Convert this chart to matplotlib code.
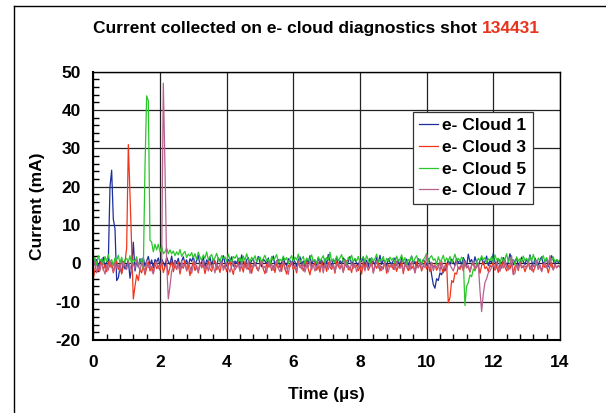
import numpy as np
import matplotlib
matplotlib.use("Agg")
import matplotlib.pyplot as plt
from matplotlib.ticker import MultipleLocator
from matplotlib.lines import Line2D

plt.rcParams['font.family'] = ['Liberation Sans', 'DejaVu Sans']
plt.rcParams['font.weight'] = 'bold'
plt.rcParams['axes.unicode_minus'] = False

# Sampling of the scope traces (µs)
t_start = 0.0
t_step = 0.05
n_samples = 281

# Collected current (mA) for each e- cloud detector
cloud1 = [
    1.5, -0.5, 1.0, -1.2, 0.8, -0.3, 1.6, -1.0, 0.4, 0.5, 20.0, 24.3, 11.5, 9.0, -4.5, -3.8, -1.0, -2.5, 0.5, -1.5,
    -0.5, 0.8, -3.9, -1.2, 5.5, -2.0, 0.6, -1.0, 1.2, -0.4, 1.5, -0.8, 0.6, 1.8, -0.5, 0.9, -1.2, 1.0, 0.3, 1.4,
    -0.6, 1.1, 0.2, -0.9, 1.6, 0.4, -0.3, 1.9, -0.7, 0.8, 0.1, 1.3, -1.1, 0.6, 1.7, -0.2, 0.9, -0.8, 1.2, 0.5,
    1.8, -0.4, 0.7, 2.1, -0.6, 0.3, 1.5, -1.0, 0.9, 0.2, 1.6, -0.5, 1.1, 0.4, -0.9, 1.4, 0.6, -0.2, 2.0, 0.1,
    -0.7, 1.0, 0.5, 1.7, -0.8, 0.6, 0.0, 1.3, -0.4, 2.2, 0.3, -1.0, 0.9, 1.5, -0.3, 0.7, 1.2, -0.6, 0.4, 1.8,
    0.2, -0.9, 1.1, 0.6, -0.2, 1.4, -0.7, 0.8, 1.9, -0.5, 0.5, 1.0, -1.1, 0.3, 1.6, 0.0, -0.6, 1.2, 0.7, -0.3,
    1.3, 0.4, -0.8, 0.9, 1.7, -0.4, 0.6, -1.0, 1.1, 0.2, 2.0, -0.3, 0.8, 0.5, -0.7, 1.5, 0.1, 0.9, -0.5, 1.2,
    -0.2, 2.3, 0.5, -0.8, 1.0, 0.3, 1.6, -0.6, 0.7, -0.1, 1.4, 0.9, -0.9, 0.4, 1.8, -0.4, 0.6, 1.1, 0.0, -0.7,
    1.0, 0.4, 1.7, -0.6, 0.8, -1.0, 1.3, 0.2, 0.6, -0.5, 1.5, 0.0, 2.1, -0.3, 0.9, 0.5, -0.8, 1.2, 0.3, -0.2,
    0.7, 1.4, -0.5, 0.9, -0.9, 1.6, 0.4, 0.0, 1.1, -0.6, 0.8, 1.9, -0.2, 0.5, -1.0, 1.2, 0.6, -0.4, 1.0, 0.3,
    -0.5, 1.2, 0.2, -3.0, -5.5, -6.5, -4.0, -4.5, -2.5, -3.0, -1.5, -2.0, -0.5, 0.8, -0.3, 1.1, 0.4, -0.6, 1.3, 0.0,
    0.9, -0.4, 1.5, 0.6, -0.8, 2.4, 0.3, 1.0, -0.5, 1.7, 0.2, -0.9, 0.8, 1.4, -0.3, 0.5, 1.9, -0.6, 0.7, 0.1,
    2.6, 0.4, -0.7, 1.2, 0.6, -0.2, 1.5, 0.9, -1.0, 0.3, 2.5, 1.0, -0.4, 0.7, 1.3, -0.6, 0.2, 1.6, 0.5, -0.3,
    1.1, 0.0, 2.2, 0.6, -0.8, 1.4, 0.3, -0.5, 0.9, 1.7, -0.2, 0.6, 1.2, -0.9, 0.4, 2.0, 0.8, -0.4, 1.0, 0.2,
    0.6,
]

cloud3 = [
    -4.0, -1.5, 0.5, -2.0, -0.5, 0.8, -1.8, -0.3, -2.2, 0.4, -1.0, 0.2, -2.5, -0.8, 0.6, -1.6, -0.2, -2.8, -0.7, 0.3,
    4.0, 31.0, 18.0, 4.0, -9.3, -6.0, -3.0, -4.5, -1.5, -2.5, -0.5, -3.0, -1.2, 0.4, -2.0, -0.8, -2.6, 0.2, -1.4, -0.6,
    -1.8, 0.5, -2.4, -0.9, -0.2, -3.0, -1.0, 0.6, -2.2, -0.4, -1.6, 0.3, -2.8, -0.7, -1.3, 0.8, -2.0, -0.5, -3.2, -1.1,
    0.4, -1.9, -0.6, -2.5, 0.2, -1.2, -0.3, -2.7, -0.9, 0.5, -1.5, -2.1, -0.2, 0.7, -1.7, -0.8, -2.4, 0.1, -1.0, -0.4,
    -2.2, -0.6, 0.6, -1.4, -2.9, -0.3, -1.1, 0.3, -1.8, -0.7, -2.3, 0.5, -0.9, -1.6, -0.1, -2.6, -0.5, 0.2, -1.3, -2.0,
    -0.4, 0.7, -1.5, -2.7, -0.2, -1.0, 0.4, -1.9, -0.6, -2.4, 0.1, -1.2, -0.3, -2.1, 0.6, -1.4, -2.8, -0.5, -0.9, 0.3,
    -1.7, -0.8, -2.5, 0.5, -1.1, -0.2, -2.0, -0.6, 0.4, -1.5, -3.0, -0.4, -0.9, 0.2, -1.8, -0.7, -2.3, 0.6, -1.2, -0.3,
    -2.1, 0.3, -1.0, -1.6, -0.4, -2.6, 0.5, -0.8, -1.4, -0.1, -2.2, -0.6, 0.7, -1.7, -0.9, -2.4, 0.0, -1.1, -0.5, -1.9,
    -0.7, -2.8, 0.4, -1.2, -0.3, -1.8, -0.9, 0.6, -2.3, -0.5, -1.3, 0.2, -2.0, -0.8, -1.5, 0.5, -2.6, -0.4, -1.0, -0.2,
    -1.6, 0.3, -2.1, -0.7, -1.2, 0.6, -2.7, -0.4, -0.9, -1.9, 0.1, -1.4, -0.6, -2.4, 0.4, -1.1, -0.3, -2.0, -0.8, 0.5,
    -1.5, -0.6, -2.2, 0.2, -1.0, -0.4, -1.8, -0.9, 0.3, -1.3, -2.5, -0.7, 0.0, -10.3, -9.0, -4.5, -5.0, -2.5, -2.8, -1.0,
    -1.6, -0.3, -2.0, 0.4, -1.2, -0.8, -2.3, -0.5, 0.2, -1.7, -1.0, -0.2, -2.6, -0.6, 0.5, -1.4, -0.9, -2.1, -0.4, -1.1,
    0.3, -1.8, -0.7, -2.4, -0.2, -1.3, 0.6, -1.0, -2.0, -0.5, -1.5, 0.1, -2.7, -0.8, -0.3, -1.9, 0.4, -1.2, -0.6, -2.2,
    -0.9, 0.2, -1.6, -0.4, -2.3, -1.0, 0.5, -1.4, -0.7, -2.0, 0.0, -1.1, -0.5, -2.5, -0.8, 0.3, -1.7, -0.3, -1.2, -0.6,
    -1.0,
]

cloud5 = [
    0.0, 1.5, -0.5, 2.0, 0.6, 1.2, -0.3, 1.8, 0.4, 2.3, 0.2, 1.0, -0.6, 1.4, 0.8, 2.1, 0.1, 1.6, -0.4, 0.9,
    1.3, 0.3, 2.0, -0.2, 1.1, 0.5, 1.7, -0.8, 0.6, 1.2, -1.5, 25.0, 43.7, 42.4, 6.0, 5.5, 3.0, 5.0, 3.5, 5.0,
    3.0, 4.5, 2.5, 3.0, 4.0, 2.5, 3.5, 2.5, 3.2, 2.0, 3.0, 2.2, 3.6, 1.8, 2.6, 3.1, 1.5, 2.4, 1.9, 2.8,
    1.4, 2.5, 1.0, 2.9, 1.6, 0.8, 2.2, 1.3, 3.0, 0.9, 1.8, 2.3, 0.6, 1.5, 2.6, 1.1, 0.4, 2.0, 1.2, 1.7,
    0.5, 2.4, 1.0, 0.2, 1.8, 1.3, 2.2, 0.6, 1.5, -0.2, 1.9, 0.8, 2.5, 1.1, 0.3, 1.6, 0.9, 2.0, 0.4, 1.2,
    1.7, 0.1, 1.3, 2.1, 0.6, 1.0, -0.3, 1.8, 0.7, 1.4, 2.3, 0.2, 1.1, 0.5, 1.9, 0.8, 1.5, -0.1, 1.2, 2.0,
    0.4, 1.6, 0.9, 2.4, 0.3, 1.1, 1.8, -0.2, 1.4, 0.7, 1.2, 2.2, 0.5, 1.0, 0.0, 1.7, 0.6, 1.3, 2.0, 0.2,
    1.5, 0.8, 2.9, 0.5, 1.2, 0.1, 1.9, 0.7, 1.4, 2.3, 0.3, 1.0, -0.3, 1.6, 0.9, 2.1, 0.4, 1.3, 0.6, 1.8,
    0.2, 1.1, 1.7, 0.4, 2.0, 0.9, -0.1, 1.5, 0.6, 1.2, 2.4, 0.3, 1.0, 0.7, 1.8, -0.2, 1.3, 0.5, 1.6, 0.8,
    1.4, 0.0, 1.9, 0.6, 1.1, 2.2, 0.3, 1.5, -0.4, 1.0, 0.7, 1.8, 0.2, 1.3, 2.0, 0.5, 1.2, -0.2, 0.9, 1.6,
    2.6, 0.4, 1.5, 2.0, 0.8, 1.2, -0.3, 1.7, 0.5, 1.0, 2.1, 0.3, 1.4, 0.6, 1.8, 0.0, 1.1, 2.4, 0.7, 1.3,
    0.5, 1.6, 1.0, -11.0, -6.0, -5.0, -3.0, -3.5, -1.5, -2.0, 0.2, 1.3, 0.6, 2.0, 0.9, 1.5, 0.1, 1.2, 0.7, 1.8,
    0.4, 2.2, 0.9, 1.3, -0.2, 1.6, 0.5, 1.1, 2.5, 0.3, 1.4, 0.8, 1.0, -0.4, 1.7, 0.6, 1.2, 0.2, 1.9, 0.7,
    1.3, 0.1, 1.8, 0.6, 2.3, 0.9, -0.5, 1.4, 0.7, 1.1, 2.0, 0.4, 1.5, 0.0, 1.2, 0.8, 1.7, 0.3, 1.0, 0.5,
    0.9,
]

cloud7 = [
    -1.0, 0.5, -2.5, -0.8, -2.0, 0.3, -1.5, -2.8, -0.5, -1.8, 0.6, -0.9, -2.2, 0.2, -1.2, -0.4, -2.0, 0.8, -1.0, -0.3,
    -1.6, 0.4, -0.7, -2.1, 0.1, -1.3, 0.9, -0.5, -1.9, 0.3, -0.8, -2.4, 0.5, -1.1, -0.2, -1.7, -2.8, -0.6, 0.4, -1.4,
    -0.5, 0.0, 47.0, 25.0, 0.0, -9.3, -6.0, -2.0, -0.8, 0.6, -1.5, -0.3, -2.0, 0.5, -1.0, -0.4, -1.8, 0.2, -0.9, -2.6,
    -0.6, 0.4, -1.3, -2.2, -0.1, -0.9, 0.7, -1.6, -0.4, -2.0, 0.3, -1.1, -0.7, -2.5, 0.0, -1.4, -0.3, 0.6, -1.8, -0.8,
    0.2, -1.2, -2.3, -0.5, 0.5, -1.7, -0.9, -0.2, -2.1, 0.4, -1.0, -0.6, -1.5, 0.7, -2.6, -0.4, -1.1, 0.1, -0.8, -1.9,
    -0.3, 0.6, -1.4, -0.7, -2.4, 0.3, -1.0, -0.1, -1.8, -0.5, 0.8, -1.3, -2.2, -0.4, 0.2, -1.6, -0.8, -2.9, -0.2, 0.5,
    -1.1, -0.4, -1.9, 0.4, -0.7, -1.5, 0.1, -2.3, -0.6, -1.0, 0.6, -1.7, -0.3, -2.0, -0.9, 0.3, -1.4, -0.5, -2.5, 0.0,
    -0.8, -1.6, 0.5, -1.2, -0.2, -2.1, -0.7, 0.2, -1.5, -0.4, -2.4, 0.7, -1.0, -0.6, -1.8, 0.1, -1.3, -0.3, -2.2, -0.9,
    0.4, -1.1, -0.5, -2.0, 0.2, -1.4, -0.8, -0.1, -2.6, -0.6, 0.6, -1.2, -0.3, -1.9, -0.7, 0.3, -1.6, -2.3, -0.4, -1.0,
    -0.2, -1.7, 0.5, -0.9, -1.3, -0.4, -2.2, 0.1, -1.0, -0.6, -1.8, 0.4, -0.3, -2.5, -0.8, -1.2, 0.2, -1.5, -0.5, -1.1,
    2.2, -0.7, -1.4, 0.3, -1.9, -0.5, -1.0, -0.2, -2.1, 0.6, -1.3, -0.8, -1.6, 0.0, -0.4, -1.2, -2.0, -0.6, 0.4, -1.5,
    -0.9, -0.3, -1.7, 0.2, -1.1, -0.6, -2.2, -0.4, 0.5, -1.3, -0.8, 0.0, -7.0, -12.6, -8.0, -5.0, -4.0, -2.5, -2.0, -1.0,
    -0.5, -1.4, 0.4, -0.9, -2.1, -0.2, -1.2, 0.6, -0.7, -1.8, -0.4, 2.0, -3.0, -2.6, -0.3, -1.5, 0.1, -0.8, -1.1, -0.6,
    -1.3, 0.3, -0.7, -1.9, -0.2, -1.0, 0.5, -1.6, -0.4, -2.2, -0.8, 0.2, -1.2, -0.5, 2.0, -0.9, -1.7, -0.3, -1.1, -0.6,
    -0.8,
]

series_labels = ["e- Cloud 1", "e- Cloud 3", "e- Cloud 5", "e- Cloud 7"]
series_colors = ["#1c2f9c", "#f0361a", "#2cc52c", "#b8608e"]

title_main = "Current collected on e- cloud diagnostics shot "
title_shot = "134431"

t = t_start + t_step * np.arange(n_samples)

FS = 12.5

fig = plt.figure(figsize=(6.06, 4.13), dpi=100)
ax = fig.add_axes([0.154, 0.1768, 0.770, 0.6496])

for vals, lab, col in zip([cloud1, cloud3, cloud5, cloud7], series_labels, series_colors):
    ax.plot(t, vals, color=col, lw=0.9, label=lab)

ax.set_xlim(0, 14)
ax.set_ylim(-20, 50)
ax.xaxis.set_major_locator(MultipleLocator(2))
ax.xaxis.set_minor_locator(MultipleLocator(0.4))
ax.yaxis.set_major_locator(MultipleLocator(10))
ax.yaxis.set_minor_locator(MultipleLocator(2))
ax.grid(True, which='major', color='#222222', lw=0.9)
ax.set_axisbelow(True)
ax.tick_params(which='both', direction='in', top=False, right=False,
               labelsize=FS, width=1, color='black')
ax.tick_params(which='major', length=0)
ax.tick_params(axis='y', which='major', pad=9)
ax.tick_params(axis='x', which='major', pad=11)
ax.tick_params(which='minor', length=4)
for lbl in ax.get_xticklabels() + ax.get_yticklabels():
    lbl.set_fontweight('bold')
for s in ax.spines.values():
    s.set_color('black')
    s.set_linewidth(1.0)
ax.spines['left'].set_linewidth(1.5)
ax.spines['bottom'].set_linewidth(1.5)

ax.set_xlabel("Time (µs)", fontsize=FS, fontweight='bold', labelpad=12)
ax.set_ylabel("Current (mA)", fontsize=FS, fontweight='bold', labelpad=8)

leg = ax.legend(loc='upper left', bbox_to_anchor=(0.685, 0.850), borderaxespad=0,
                fancybox=False, framealpha=1, edgecolor='#333333',
                prop={'size': FS, 'weight': 'bold'}, handlelength=1.1,
                handletextpad=0.25, labelspacing=0.38, borderpad=0.35)
leg.get_frame().set_linewidth(0.9)

# Outer frame around the figure
fig.add_artist(Line2D([14 / 606, 14 / 606], [0, 1 - 6 / 413], color='black', lw=1.0,
                      transform=fig.transFigure))
fig.add_artist(Line2D([14 / 606, 1], [1 - 6 / 413, 1 - 6 / 413], color='black', lw=1.0,
                      transform=fig.transFigure))

# Two-colour title, shared baseline
fig.canvas.draw()
renderer = fig.canvas.get_renderer()
title_y = 1 - 33 / 413
tmp1 = fig.text(0, title_y, title_main, fontsize=FS, fontweight='bold', va='baseline')
tmp2 = fig.text(0, title_y, title_shot, fontsize=FS, fontweight='bold', va='baseline')
w1 = tmp1.get_window_extent(renderer).width / fig.bbox.width
w2 = tmp2.get_window_extent(renderer).width / fig.bbox.width
x0 = 316 / 606 - (w1 + w2) / 2
tmp1.set_x(x0)
tmp2.set_x(x0 + w1)
tmp2.set_color('#e8341c')

fig.savefig("out.png", dpi=100)
